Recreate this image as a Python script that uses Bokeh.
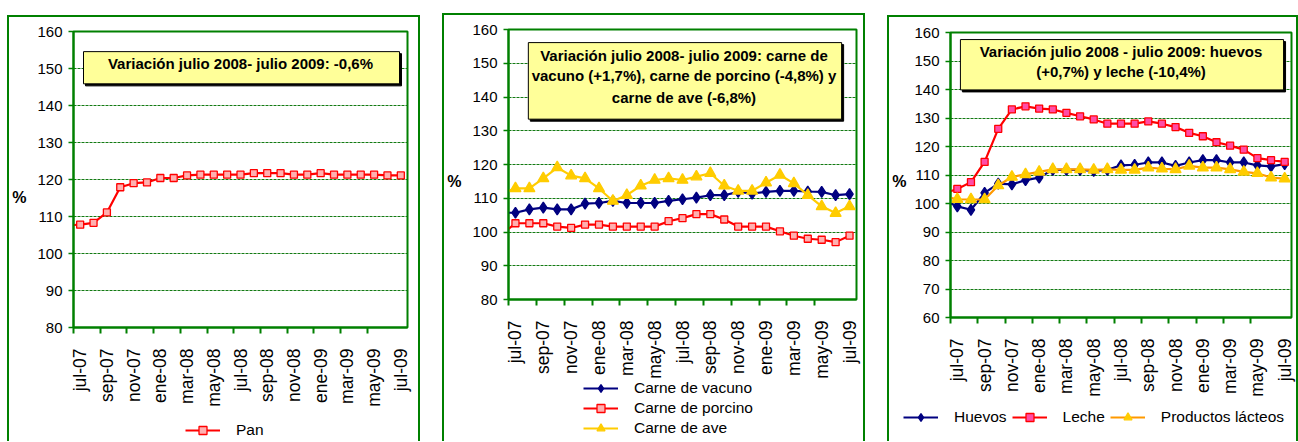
import math
from bokeh.plotting import figure
from bokeh.models import Range1d, FixedTicker, Legend, LegendItem, Label, BoxAnnotation
from bokeh.embed import file_html
from bokeh.resources import INLINE

# ---------------- data ----------------
months = ["jul-07", "ago-07", "sep-07", "oct-07", "nov-07", "dic-07",
          "ene-08", "feb-08", "mar-08", "abr-08", "may-08", "jun-08",
          "jul-08", "ago-08", "sep-08", "oct-08", "nov-08", "dic-08",
          "ene-09", "feb-09", "mar-09", "abr-09", "may-09", "jun-09", "jul-09"]

pan = [107.8, 108.3, 111.1, 117.9, 119.0, 119.2, 120.4, 120.4, 121.1, 121.3,
       121.3, 121.3, 121.3, 121.7, 121.7, 121.7, 121.3, 121.3, 121.7, 121.3,
       121.3, 121.3, 121.3, 121.1, 121.1]
pan_start = 107.7

vacuno = [105.7, 106.7, 107.2, 106.7, 106.7, 108.4, 108.6, 109.2, 108.6, 108.6,
          108.6, 109.2, 109.7, 110.2, 110.9, 110.9, 111.9, 111.4, 111.9, 112.2,
          112.2, 112.0, 111.9, 110.9, 111.2]
vacuno_start = 105.7
porcino = [102.6, 102.6, 102.6, 101.6, 101.2, 102.2, 102.2, 101.6, 101.6, 101.6,
           101.6, 103.2, 104.1, 105.3, 105.3, 103.7, 101.6, 101.6, 101.6, 100.2,
           98.9, 98.0, 97.7, 97.0, 98.9]
porcino_start = 100.9
ave = [112.9, 112.9, 115.9, 119.1, 116.7, 115.9, 112.9, 109.2, 110.9, 113.7,
       115.4, 115.9, 115.4, 116.4, 117.4, 113.7, 112.2, 112.2, 114.6, 116.9,
       114.4, 110.9, 107.6, 105.6, 107.6]
ave_start = 112.2

huevos = [99.0, 97.8, 103.7, 107.0, 106.7, 108.2, 109.1, 111.8, 111.8, 111.8,
          111.4, 111.8, 113.4, 113.6, 114.4, 114.4, 113.2, 114.4, 115.2, 115.2,
          114.4, 114.4, 113.4, 113.0, 113.8]
huevos_start = 100.0
leche = [105.1, 107.5, 114.6, 126.2, 133.0, 134.1, 133.3, 133.0, 131.8, 130.6,
         129.5, 128.0, 128.0, 128.0, 128.8, 128.0, 126.8, 124.8, 123.6, 121.5,
         120.3, 118.9, 115.9, 115.2, 114.6]
leche_start = 104.3
lacteos = [101.5, 101.4, 101.4, 106.3, 109.3, 110.2, 111.1, 112.0, 112.0, 112.0,
           111.8, 112.0, 111.8, 111.8, 112.6, 112.2, 112.0, 113.2, 112.6, 112.6,
           112.0, 111.1, 110.6, 109.1, 108.7]
lacteos_start = 102.0

box_lines_1 = ["Variación julio 2008- julio 2009: -0,6%"]
box_lines_2 = ["Variación julio 2008- julio 2009: carne de",
               "vacuno (+1,7%), carne de porcino (-4,8%) y",
               "carne de ave (-6,8%)"]
box_lines_3 = ["Variación julio 2008 - julio 2009: huevos",
               "(+0,7%) y leche (-10,4%)"]

# ---------------- style ----------------
FONT = "Liberation Sans"
GREEN = "#008000"
GRID = "#137a13"
NAVY = "#000080"
RED = "#FF0000"
YEL = "#FFCC00"
ORANGE = "#FF9900"
N = len(months)


def draw_series(p, start, vals, color, marker, size, fill, mline):
    xs = [-0.5] + list(range(len(vals)))
    l = p.line(xs, [start] + vals, line_color=color, line_width=2.2)
    s = p.scatter(list(range(len(vals))), vals, marker=marker, size=size,
                  fill_color=fill, line_color=mline, line_width=1.3)
    return [l, s]


class Panel:
    def __init__(self, host_x, host_y, cw, ch, fx, fy, fw, fh, ylo, yhi,
                 pct_lh, pct_standoff):
        canvas_x, canvas_y = host_x + 2, host_y + 2
        self.fx, self.fy, self.fw, self.fh = fx, fy, fw, fh
        self.ylo, self.yhi = ylo, yhi
        fl = fx - canvas_x
        ft = fy - canvas_y
        border = f"2px solid {GREEN}"
        p = figure(width=cw, height=ch,
                   x_range=Range1d(-0.5, N - 0.5), y_range=Range1d(ylo, yhi),
                   output_backend="svg", toolbar_location=None,
                   min_border_left=fl, min_border_top=ft,
                   min_border_right=cw - fl - fw, min_border_bottom=ch - ft - fh,
                   styles={"position": "absolute", "left": f"{host_x}px",
                           "top": f"{host_y}px", "box-sizing": "content-box",
                           "border-top": border, "border-left": border,
                           "border-right": border})
        p.background_fill_color = "white"
        p.border_fill_color = "white"
        p.outline_line_color = GREEN
        p.outline_line_width = 2
        p.outline_line_alpha = 1

        yt = FixedTicker(ticks=list(range(ylo, yhi + 1, 10)))
        p.xgrid.visible = False
        p.ygrid.ticker = yt
        p.ygrid.grid_line_color = GRID
        p.ygrid.grid_line_dash = "3 1"
        p.ygrid.grid_line_width = 1.2

        ya = p.yaxis[0]
        ya.ticker = yt
        ya.axis_line_color = GREEN
        ya.axis_line_width = 2
        ya.major_tick_line_color = GREEN
        ya.major_tick_line_width = 1.5
        ya.major_tick_out = 5
        ya.major_tick_in = 0
        ya.minor_tick_line_color = None
        ya.major_label_standoff = 6
        ya.major_label_text_font = FONT
        ya.major_label_text_font_size = "15px"
        ya.major_label_text_color = "black"
        ya.axis_label = "\n%"
        ya.axis_label_orientation = "horizontal"
        ya.axis_label_text_font = FONT
        ya.axis_label_text_font_size = "16px"
        ya.axis_label_text_font_style = "bold"
        ya.axis_label_text_color = "black"
        ya.axis_label_text_line_height = pct_lh
        ya.axis_label_standoff = pct_standoff

        xa = p.xaxis[0]
        xa.ticker = FixedTicker(ticks=list(range(0, N, 2)),
                                minor_ticks=[i - 0.5 for i in range(0, N - 1, 2)])
        xa.major_label_overrides = {i: months[i] for i in range(0, N, 2)}
        xa.major_label_orientation = math.pi / 2
        xa.axis_line_color = GREEN
        xa.axis_line_width = 2
        xa.major_tick_line_color = None
        xa.major_tick_out = 0
        xa.major_tick_in = 0
        xa.minor_tick_line_color = GREEN
        xa.minor_tick_line_width = 2
        xa.minor_tick_out = 6
        xa.minor_tick_in = 0
        xa.major_label_standoff = 15
        xa.major_label_text_font = FONT
        xa.major_label_text_font_size = "17.5px"
        xa.major_label_text_color = "black"
        self.p = p

    def dx(self, px):
        return -0.5 + (px - self.fx) / self.fw * N

    def dy(self, py):
        return self.yhi - (py - self.fy) / self.fh * (self.yhi - self.ylo)

    def series(self, *args):
        return draw_series(self.p, *args)

    def textbox(self, x0, y0, x1, y1, lines, cx, line_ys):
        p = self.p
        sh = BoxAnnotation(left=self.dx(x0 + 2), right=self.dx(x1 + 2),
                           top=self.dy(y0 + 2), bottom=self.dy(y1 + 2),
                           fill_color="black", fill_alpha=1, line_color="black",
                           line_alpha=1, line_width=1)
        bx = BoxAnnotation(left=self.dx(x0), right=self.dx(x1),
                           top=self.dy(y0), bottom=self.dy(y1),
                           fill_color="#FFFF99", fill_alpha=1, line_color="black",
                           line_alpha=1, line_width=1)
        p.add_layout(sh)
        p.add_layout(bx)
        for t, ly in zip(lines, line_ys):
            p.add_layout(Label(x=self.dx(cx), y=self.dy(ly), text=t,
                               text_align="center", text_baseline="middle",
                               text_font=FONT, text_font_size="15px",
                               text_font_style="bold", text_color="black"))


def legend_box(left, top, w, h, entries, orientation, spacing):
    """A small transparent overlay figure that carries a legend for a panel."""
    lp = figure(width=w, height=h, output_backend="svg", toolbar_location=None,
                x_axis_location=None, y_axis_location=None,
                x_range=Range1d(1000, 1001), y_range=Range1d(1000, 1001),
                min_border=0,
                styles={"position": "absolute", "left": f"{left}px", "top": f"{top}px"})
    lp.grid.visible = False
    lp.outline_line_color = None
    lp.background_fill_alpha = 0
    lp.border_fill_alpha = 0
    items = []
    for label, args in entries:
        items.append(LegendItem(label=label, renderers=draw_series(lp, *args)))
    lg = Legend(items=items, location=(0, 0), orientation=orientation,
                padding=0, margin=0, spacing=spacing,
                glyph_width=35, glyph_height=20, label_height=20,
                label_standoff=16, background_fill_alpha=0,
                border_line_alpha=0, label_text_font=FONT,
                label_text_font_size="15.5px", label_text_color="black")
    lp.add_layout(lg)
    return lp


pan_args = (pan_start, pan, RED, "square", 7, "#FFB0B0", RED)
vac_args = (vacuno_start, vacuno, NAVY, "diamond", 11, NAVY, NAVY)
por_args = (porcino_start, porcino, RED, "square", 7, "#FFB0B0", RED)
ave_args = (ave_start, ave, YEL, "triangle", 11, YEL, YEL)
hue_args = (huevos_start, huevos, NAVY, "diamond", 11, NAVY, NAVY)
lec_args = (leche_start, leche, RED, "square", 7, "#FF4DA6", RED)
lac_args = (lacteos_start, lacteos, ORANGE, "triangle", 11, YEL, YEL)

# ---------------- panel 1 ----------------
P1 = Panel(7, 15, 409, 424, 69, 31, 334, 294, 80, 160, pct_lh=2.1, pct_standoff=8)
P1.series(*pan_args)
P1.textbox(79, 51, 395, 83, box_lines_1, 236, [63])
L1 = legend_box(185, 420, 100, 20, [("Pan", pan_args)], "vertical", 0)

# ---------------- panel 2 ----------------
P2 = Panel(442, 13, 419, 426, 501, 29, 351, 268, 80, 160, pct_lh=2.0, pct_standoff=8)
P2.series(*vac_args)
P2.series(*por_args)
P2.series(*ave_args)
P2.textbox(521, 42, 837, 118, box_lines_2, 678, [55, 75, 96])
L2 = legend_box(583, 378, 200, 60, [("Carne de vacuno", vac_args),
                                    ("Carne de porcino", por_args),
                                    ("Carne de ave", ave_args)], "vertical", 0)

# ---------------- panel 3 ----------------
P3 = Panel(887, 15, 407, 424, 943, 32, 344, 283, 60, 160, pct_lh=0.8, pct_standoff=5)
P3.series(*hue_args)
P3.series(*lec_args)
P3.series(*lac_args)
P3.textbox(953, 39, 1279, 89, box_lines_3, 1115, [51, 71])
L3 = legend_box(903, 407, 390, 20, [("Huevos", hue_args),
                                    ("Leche", lec_args),
                                    ("Productos lácteos", lac_args)], "horizontal", 5)

open("out.html", "w").write(file_html((P1.p, P2.p, P3.p, L1, L2, L3), INLINE))
